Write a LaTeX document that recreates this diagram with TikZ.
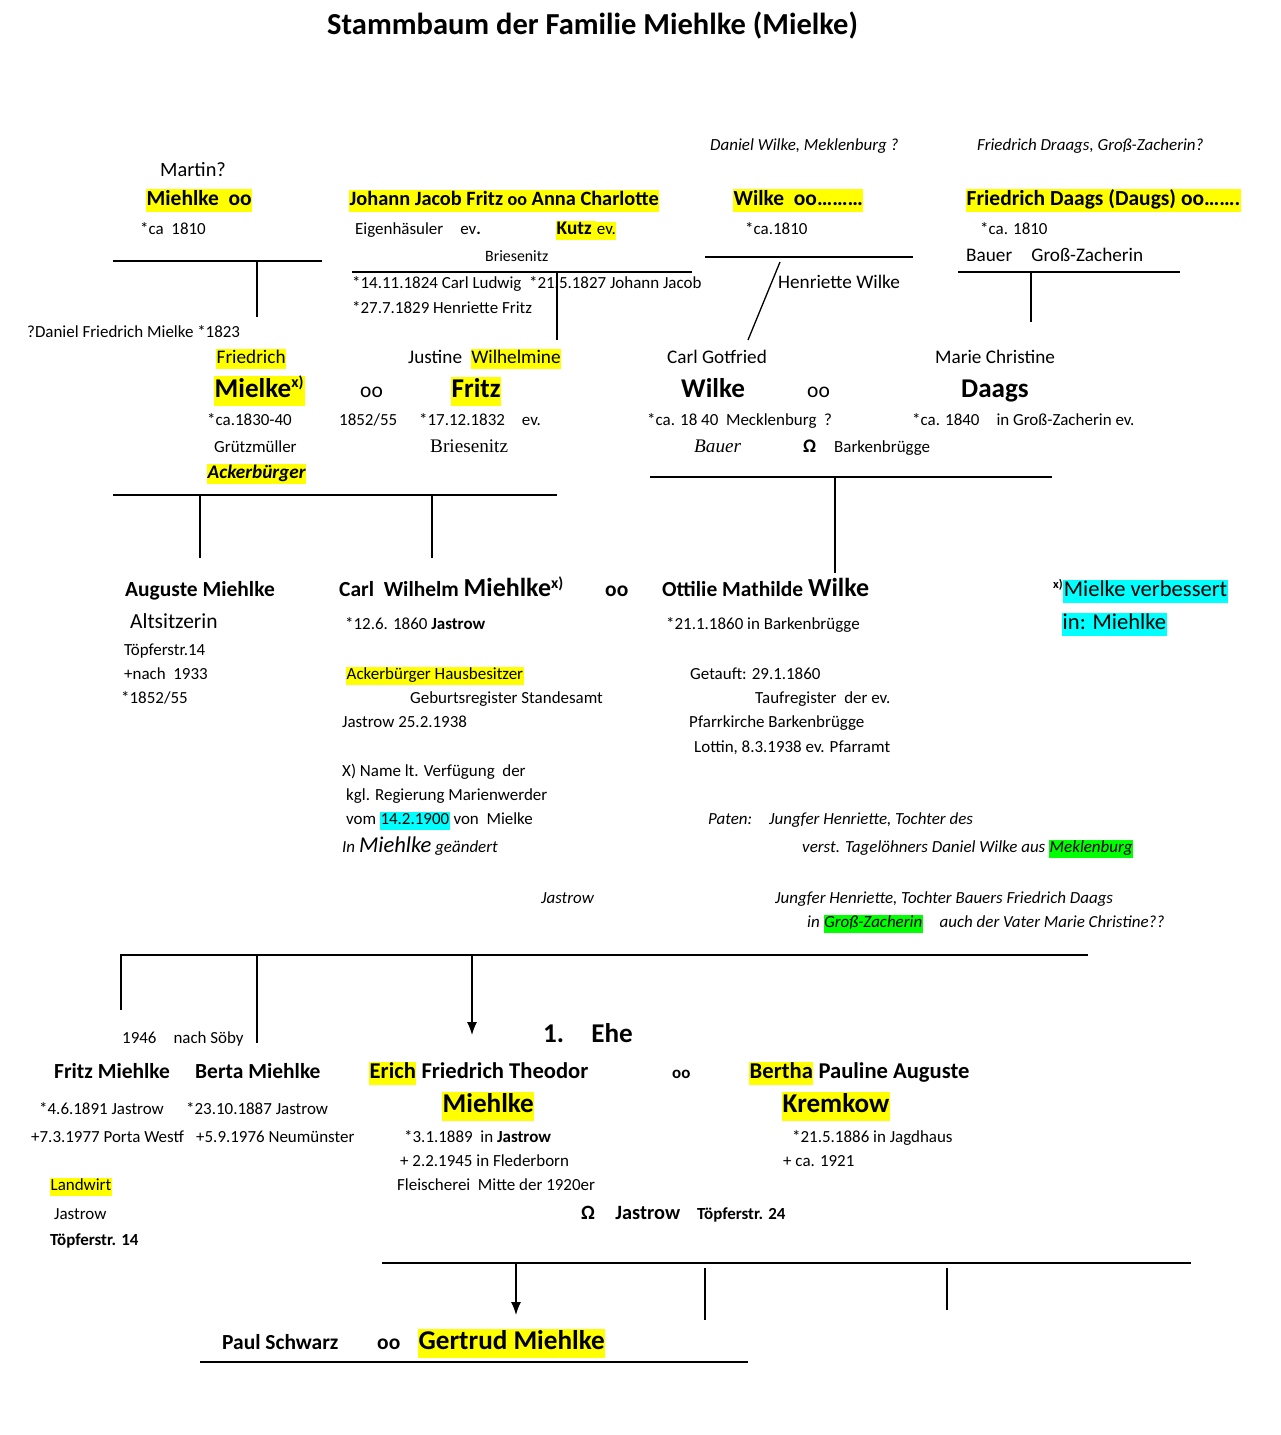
\documentclass[tikz,border=0pt]{standalone}
\usepackage{fontspec}
\usetikzlibrary{arrows.meta}
\setmainfont{Carlito}
\newfontfamily\serifr{Liberation Serif}
\definecolor{hlyel}{RGB}{255,255,0}
\definecolor{hlcya}{RGB}{0,255,255}
\definecolor{hlgrn}{RGB}{0,255,0}
\setlength{\fboxsep}{0.5pt}
\newcommand{\hl}[1]{\colorbox{hlyel}{\strut #1}}
\newcommand{\hc}[1]{\colorbox{hlcya}{\strut #1}}
\newcommand{\hg}[1]{\colorbox{hlgrn}{\strut #1}}
\newcommand{\fsz}[1]{\fontsize{\dimexpr #1pt*113/100\relax}{\dimexpr #1pt*113/100\relax}\selectfont}
\tikzset{
  txt/.style={anchor=base west, inner sep=0pt, font=\fsz{15}},
  person/.style={txt, font=\fsz{19}\bfseries},
  big/.style={txt, font=\fsz{24}\bfseries},
  note/.style={txt, font=\fsz{15}\itshape},
  rule/.style={line width=1.3pt},
  link/.style={line width=1.3pt, -{Latex[length=13pt,width=10pt]}}
}
\begin{document}
\begin{tikzpicture}[x=1pt, y=-1pt]
        \useasboundingbox (0,0) rectangle (1280,1435);

        % title
        \node[txt, font=\fsz{27}\bfseries] (title) at (327,34) {Stammbaum der Familie Miehlke (Mielke)};

        % great-grandparents
        \node[note] (dwilke) at (710,150) {Daniel Wilke, Meklenburg ?};
        \node[note] (fdraags) at (977,150) {Friedrich Draags, Groß-Zacherin?};
        \node[txt, font=\fsz{18}] (martin) at (160,176) {Martin?};
        \node[person] (miehlkeA) at (146,205) {\hl{Miehlke\ \ oo}};
        \node[txt] (miehlkeAb) at (140,234) {*ca\ \ 1810};
        \node[txt, font=\fsz{18}\bfseries] (fritzA) at (349,205) {\hl{Johann Jacob Fritz {\fsz{16}oo} Anna Charlotte}};
        \node[txt] (fritzAb) at (355,234) {Eigenhäsuler\quad ev{\bfseries.}};
        \node[txt] (kutz) at (556,234) {\hl{\bfseries\fsz{17}Kutz\ }\hl{ev.}};
        \node[txt, font=\fsz{14}] (fritzAo) at (485,261) {Briesenitz};
        \node[txt] (fritzAk1) at (352,288) {*14.11.1824 Carl Ludwig\ \ *21.5.1827 Johann Jacob};
        \node[txt] (fritzAk2) at (352,313) {*27.7.1829 Henriette Fritz};
        \node[person] (wilkeA) at (733,205) {\hl{Wilke\ \ oo………}};
        \node[txt] (wilkeAb) at (745,234) {*ca.1810};
        \node[txt, font=\fsz{17}] (henriette) at (778,288) {Henriette Wilke};
        \node[person] (daagsA) at (966,205) {\hl{Friedrich Daags (Daugs) oo…….}};
        \node[txt] (daagsAb) at (980,234) {*ca. 1810};
        \node[txt, font=\fsz{17}] (daagsAo) at (966,261) {Bauer\quad Groß-Zacherin};

        \draw[rule] (113,261) -- (322,261);
        \draw[rule] (257,261) -- (257,317);
        \draw[rule] (352,272) -- (692,272);
        \draw[rule] (557,272) -- (557,340);
        \draw[rule] (705,257) -- (913,257);
        \draw[rule] (780,262) -- (748,340);
        \draw[rule] (958,272) -- (1180,272);
        \draw[rule] (1031,272) -- (1031,322);

        % grandparents
        \node[txt] (daniel) at (27,337) {?Daniel Friedrich Mielke *1823};
        \node[txt, font=\fsz{17}] (friedrich) at (216,363) {\hl{Friedrich}};
        \node[txt, font=\fsz{17}] (justine) at (408,363) {Justine\ \ \hl{Wilhelmine}};
        \node[txt, font=\fsz{17}] (carlg) at (667,363) {Carl Gotfried};
        \node[txt, font=\fsz{17}] (marie) at (935,363) {Marie Christine};
        \node[big] (mielkeB) at (214,397) {\hl{Mielke\textsuperscript{\fsz{14}x)}}};
        \node[txt, font=\fsz{19}] (ooB1) at (360,397) {oo};
        \node[big] (fritzB) at (451,397) {\hl{Fritz}};
        \node[big] (wilkeB) at (681,397) {Wilke};
        \node[txt, font=\fsz{19}] (ooB2) at (807,397) {oo};
        \node[big] (daagsB) at (961,397) {Daags};
        \node[txt] (mielkeBb) at (207,425) {*ca.1830-40};
        \node[txt] (ooB1d) at (339,425) {1852/55};
        \node[txt] (fritzBb) at (419,425) {*17.12.1832\quad ev.};
        \node[txt] (wilkeBb) at (647,425) {*ca. 18 40\ \ Mecklenburg\ \ ?};
        \node[txt] (daagsBb) at (912,425) {*ca. 1840\quad in Groß-Zacherin ev.};
        \node[txt] (mielkeBj) at (214,452) {Grützmüller};
        \node[txt, font=\fsz{17}\serifr] (fritzBo) at (430,452) {Briesenitz};
        \node[txt, font=\fsz{17}\serifr\itshape] (wilkeBj) at (694,452) {Bauer};
        \node[txt, font=\fsz{17}\bfseries] (omegaB) at (803,452) {Ω};
        \node[txt] (barken) at (834,452) {Barkenbrügge};
        \node[txt, font=\fsz{17}\bfseries\itshape] (acker) at (207,478) {\hl{Ackerbürger}};

        \draw[rule] (113,495) -- (557,495);
        \draw[rule] (200,495) -- (200,558);
        \draw[rule] (432,495) -- (432,558);
        \draw[rule] (650,477) -- (1052,477);
        \draw[rule] (835,477) -- (835,573);

        % parents
        \node[person] (auguste) at (125,596) {Auguste Miehlke};
        \node[txt, font=\fsz{19}] (alts) at (130,628) {Altsitzerin};
        \node[txt] (augA) at (124,655) {Töpferstr.14};
        \node[txt] (augB) at (124,679) {+nach\ \ 1933};
        \node[txt] (augC) at (121,703) {*1852/55};
        \node[person] (carlw) at (339,596) {Carl\ \ Wilhelm {\fsz{23}Miehlke}\textsuperscript{\fsz{14}x)}};
        \node[txt, font=\fsz{19}\bfseries] (ooC) at (605,596) {oo};
        \node[person] (ottilie) at (662,596) {Ottilie Mathilde {\fsz{23}Wilke}};
        \node[txt, font=\fsz{20}] (verb1) at (1053,596) {\textsuperscript{\fsz{11}\bfseries x)}\hc{Mielke verbessert}};
        \node[txt, font=\fsz{20}] (verb2) at (1062,629) {\hc{in: Miehlke}};
        \node[txt] (carlwb) at (345,629) {*12.6. 1860 \textbf{Jastrow}};
        \node[txt] (ottb) at (666,629) {*21.1.1860 in Barkenbrügge};
        \node[txt] (carlw1) at (346,679) {\hl{Ackerbürger Hausbesitzer}};
        \node[txt] (ott1) at (690,679) {Getauft: 29.1.1860};
        \node[txt] (carlw2) at (410,703) {Geburtsregister Standesamt};
        \node[txt] (ott2) at (755,703) {Taufregister\ \ der ev.};
        \node[txt] (carlw3) at (342,727) {Jastrow 25.2.1938};
        \node[txt] (ott3) at (689,727) {Pfarrkirche Barkenbrügge};
        \node[txt] (ott4) at (694,752) {Lottin, 8.3.1938 ev. Pfarramt};
        \node[txt] (carlw4) at (342,776) {X) Name lt. Verfügung\ \ der};
        \node[txt] (carlw5) at (346,800) {kgl. Regierung Marienwerder};
        \node[txt] (carlw6) at (346,824) {vom \hc{14.2.1900} von\ \ Mielke};
        \node[note] (paten1) at (708,824) {Paten:\quad Jungfer Henriette, Tochter des};
        \node[note] (carlw7) at (342,852) {In {\fsz{20}Miehlke} geändert};
        \node[note] (paten2) at (802,852) {verst. Tagelöhners Daniel Wilke aus \hg{Meklenburg}};
        \node[note] (jastrow) at (541,903) {Jastrow};
        \node[note] (paten3) at (775,903) {Jungfer Henriette, Tochter Bauers Friedrich Daags};
        \node[note] (paten4) at (807,927) {in \hg{Groß-Zacherin}\quad auch der Vater Marie Christine??};

        \draw[rule] (120,955) -- (1088,955);
        \draw[rule] (121,955) -- (121,1010);
        \draw[rule] (257,955) -- (257,1043);
        \draw[link] (472,955) -- (472,1035);

        % children
        \node[txt] (soeby) at (122,1043) {1946\quad nach Söby};
        \node[txt, font=\fsz{24}\bfseries] (ehe) at (543,1042) {1.\quad Ehe};
        \node[person] (fritzM) at (54,1078) {Fritz Miehlke};
        \node[person] (berta) at (195,1078) {Berta Miehlke};
        \node[txt, font=\fsz{20}\bfseries] (erich) at (369,1078) {\hl{Erich} Friedrich Theodor};
        \node[txt, font=\fsz{15}\bfseries] (ooD) at (672,1078) {oo};
        \node[txt, font=\fsz{20}\bfseries] (bertha) at (749,1078) {\hl{Bertha} Pauline Auguste};
        \node[big] (erichM) at (442,1112) {\hl{Miehlke}};
        \node[big] (kremkow) at (782,1112) {\hl{Kremkow}};
        \node[txt] (fritzMb) at (39,1114) {*4.6.1891 Jastrow};
        \node[txt] (bertab) at (186,1114) {*23.10.1887 Jastrow};
        \node[txt] (fritzMd) at (31,1142) {+7.3.1977 Porta Westf};
        \node[txt] (bertad) at (196,1142) {+5.9.1976 Neumünster};
        \node[txt] (erichb) at (404,1142) {*3.1.1889\ \ in \textbf{Jastrow}};
        \node[txt] (berthab) at (792,1142) {*21.5.1886 in Jagdhaus};
        \node[txt] (erichd) at (400,1166) {+ 2.2.1945 in Flederborn};
        \node[txt] (berthad) at (783,1166) {+ ca. 1921};
        \node[txt] (landwirt) at (50,1190) {\hl{Landwirt}};
        \node[txt] (erichj) at (397,1190) {Fleischerei\ \ Mitte der 1920er};
        \node[txt] (fritzMo) at (54,1219) {Jastrow};
        \node[txt, font=\fsz{18}\bfseries] (erichO) at (581,1219) {Ω\quad Jastrow};
        \node[txt, font=\fsz{15}\bfseries] (erichS) at (697,1219) {Töpferstr. 24};
        \node[txt, font=\fsz{15}\bfseries] (fritzMs) at (50,1245) {Töpferstr. 14};

        \draw[rule] (382,1263) -- (1191,1263);
        \draw[link] (516,1263) -- (516,1315);
        \draw[rule] (705,1268) -- (705,1320);
        \draw[rule] (947,1268) -- (947,1310);

        % grandchildren
        \node[txt, font=\fsz{19}\bfseries] (paul) at (222,1349) {Paul Schwarz};
        \node[txt, font=\fsz{19}\bfseries] (ooE) at (377,1349) {oo};
        \node[big] (gertrud) at (418,1349) {\hl{Gertrud Miehlke}};
        \draw[rule] (200,1362) -- (748,1362);
\end{tikzpicture}
\end{document}
